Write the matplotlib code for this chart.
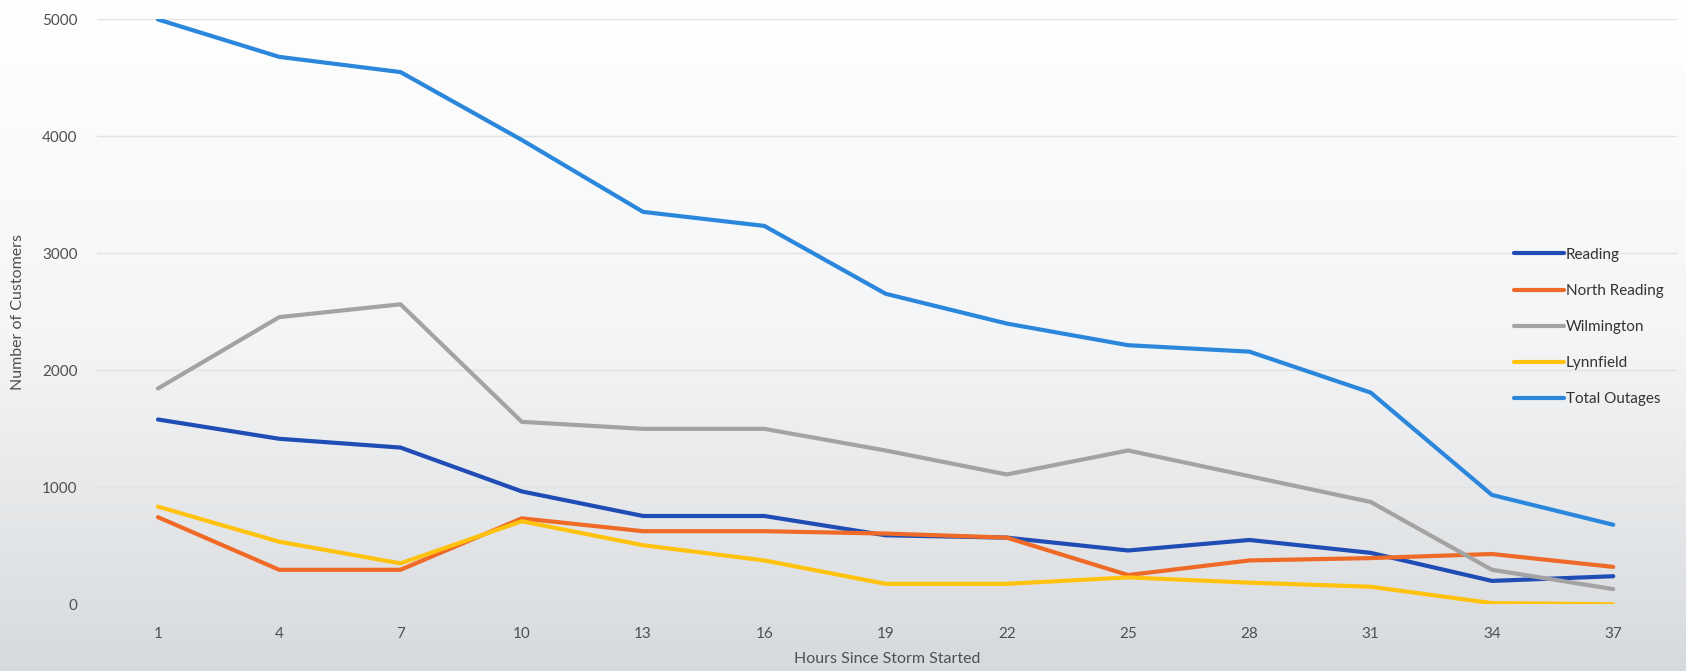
import numpy as np
import matplotlib
matplotlib.use("Agg")
import matplotlib.pyplot as plt

plt.rcParams['font.family'] = ['Lato', 'DejaVu Sans']

hours = [1, 4, 7, 10, 13, 16, 19, 22, 25, 28, 31, 34, 37]

reading = [1580, 1415, 1340, 965, 755, 755, 590, 570, 460, 550, 440, 200, 240]
north_reading = [745, 295, 295, 735, 625, 625, 605, 570, 250, 375, 395, 430, 320]
wilmington = [1845, 2455, 2565, 1560, 1500, 1500, 1315, 1110, 1315, 1095, 875, 295, 130]
lynnfield = [835, 535, 350, 710, 505, 375, 175, 175, 230, 185, 150, 10, 0]
total_outages = [5000, 4680, 4550, 3970, 3355, 3235, 2655, 2400, 2215, 2160, 1810, 935, 680]

series = [
    ("Reading", reading, "#1f4db5"),
    ("North Reading", north_reading, "#ee6a26"),
    ("Wilmington", wilmington, "#a3a3a3"),
    ("Lynnfield", lynnfield, "#ffc20e"),
    ("Total Outages", total_outages, "#2b87dc"),
]

fig = plt.figure(figsize=(16.86, 6.71), dpi=100)

# soft paper background (photo of a printed chart)
bg = fig.add_axes([0, 0, 1, 1], zorder=-10)
grad = np.linspace(0, 1, 256).reshape(-1, 1)
bg.imshow(grad, aspect='auto', cmap=matplotlib.colors.LinearSegmentedColormap.from_list(
    "paper", ["#ffffff", "#f4f5f6", "#d7dadd"]), extent=[0, 1, 0, 1])
bg.axis('off')

ax = fig.add_axes([0.0575, 0.0994, 0.9372, 0.8716])
ax.patch.set_alpha(0)

for name, vals, col in series:
    ax.plot(hours, vals, color=col, lw=3, label=name, solid_capstyle='round')

ax.set_xlim(-0.51, 38.58)
ax.set_ylim(0, 5000)
ax.set_xticks(hours)
ax.set_yticks([0, 1000, 2000, 3000, 4000, 5000])
ax.yaxis.grid(True, color='#e2e2e2', lw=1)
ax.set_axisbelow(True)
for s in ax.spines.values():
    s.set_visible(False)
ax.tick_params(length=0, labelsize=11, colors='#505050')
ax.tick_params(axis='y', pad=14)
ax.tick_params(axis='x', pad=16)
ax.set_xlabel('Hours Since Storm Started', fontsize=11.5, color='#505050', labelpad=8)
ax.set_ylabel('Number of Customers', fontsize=11.5, color='#505050', labelpad=12)

fig.legend(loc='center left', bbox_to_anchor=(0.898, 0.5125), frameon=False,
           fontsize=11, handlelength=3.3, handletextpad=0.1, labelspacing=1.45,
           borderpad=0, borderaxespad=0, labelcolor='#333333')

fig.savefig('out.png', dpi=100)
